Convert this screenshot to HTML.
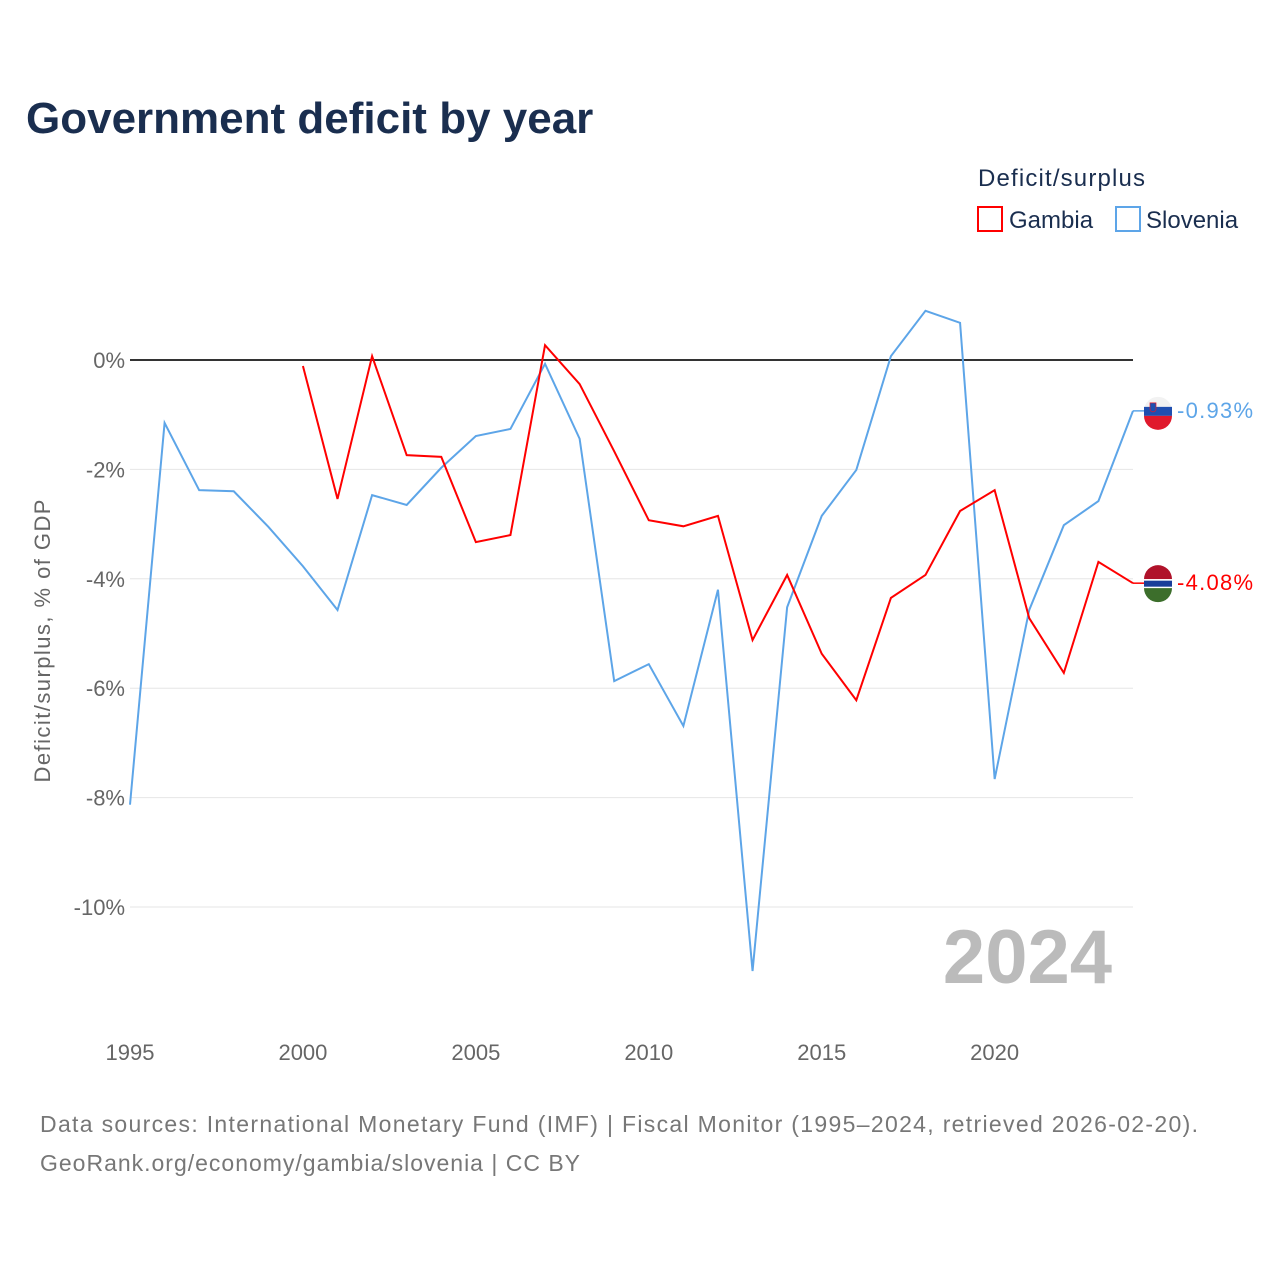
<!DOCTYPE html>
<html><head><meta charset="utf-8"><style>
body{margin:0;background:#fff;width:1280px;height:1280px;overflow:hidden;font-family:"Liberation Sans",sans-serif}
</style></head><body>
<svg width="1280" height="1280" font-family="Liberation Sans, sans-serif">
<text x="26" y="133" font-size="44" font-weight="bold" fill="#1a2e4f">Government deficit by year</text>
<text x="978" y="186" font-size="24" fill="#1a2e4f" textLength="167">Deficit/surplus</text>
<g><rect x="978" y="207" width="24" height="24" fill="none" stroke="#f00" stroke-width="2"/><text x="1009" y="228" font-size="24" fill="#1a2e4f">Gambia</text></g>
<g><rect x="1116" y="207" width="24" height="24" fill="none" stroke="#5da5e8" stroke-width="2"/><text x="1146" y="228" font-size="24" fill="#1a2e4f">Slovenia</text></g>
<text transform="translate(50,641) rotate(-90)" text-anchor="middle" font-size="22" fill="#666" textLength="283">Deficit/surplus, % of GDP</text>
<g id="grid"></g><g id="ticks"></g>
<text x="1112" y="983" text-anchor="end" font-size="76" font-weight="bold" fill="#bbb">2024</text>
<g id="series"></g>
<text x="40" y="1132" font-size="23" fill="#777" textLength="1158">Data sources: International Monetary Fund (IMF) | Fiscal Monitor (1995–2024, retrieved 2026-02-20).</text>
<text x="40" y="1171" font-size="23" fill="#777" textLength="540">GeoRank.org/economy/gambia/slovenia | CC BY</text>
</svg>
<script>
const yTicks=[0,-2,-4,-6,-8,-10];
const xTicks=[1995,2000,2005,2010,2015,2020];
const sloveniaYears=[1995,1996,1997,1998,1999,2000,2001,2002,2003,2004,2005,2006,2007,2008,2009,2010,2011,2012,2013,2014,2015,2016,2017,2018,2019,2020,2021,2022,2023,2024];
const sloveniaVals=[-8.13,-1.15,-2.38,-2.4,-3.05,-3.77,-4.57,-2.47,-2.65,-1.97,-1.39,-1.26,-0.07,-1.44,-5.87,-5.56,-6.69,-4.2,-11.17,-4.52,-2.85,-2.01,0.07,0.9,0.68,-7.66,-4.57,-3.02,-2.58,-0.93];
const gambiaYears=[2000,2001,2002,2003,2004,2005,2006,2007,2008,2009,2010,2011,2012,2013,2014,2015,2016,2017,2018,2019,2020,2021,2022,2023,2024];
const gambiaVals=[-0.11,-2.54,0.07,-1.74,-1.77,-3.33,-3.2,0.27,-0.44,-1.67,-2.93,-3.04,-2.85,-5.12,-3.93,-5.37,-6.22,-4.35,-3.93,-2.76,-2.38,-4.72,-5.72,-3.69,-4.08];
const X=y=>130+(y-1995)*(1133-130)/29;
const Y=v=>360-v*54.7;
const NS='http://www.w3.org/2000/svg';
function mk(t,a,p){const e=document.createElementNS(NS,t);for(const k in a)e.setAttribute(k,a[k]);p.appendChild(e);return e;}
const grid=document.getElementById('grid'),ticks=document.getElementById('ticks'),ser=document.getElementById('series');
yTicks.forEach(v=>{
 const l=mk('line',{x1:130,x2:1133,y1:Y(v),y2:Y(v),stroke:v===0?'#333':'#e6e6e6','stroke-width':v===0?2:1},grid);
 
 
 const t=mk('text',{x:125,y:Y(v)+8,'text-anchor':'end','font-size':22,fill:'#666'},ticks);
 t.textContent=v+'%';
 
 
});
xTicks.forEach(y=>{
 const t=mk('text',{x:X(y),y:1060,'text-anchor':'middle','font-size':22,fill:'#666'},ticks);
 t.textContent=y;
 
 
});
function line(ys,vs,c,name){
 const p=mk('polyline',{points:ys.map((y,i)=>X(y)+','+Y(vs[i])).join(' '),fill:'none',stroke:c,'stroke-width':2},ser);
 
 
 const last=vs[vs.length-1],ly=Y(last);
 mk('line',{x1:1133,x2:1145,y1:ly,y2:ly,stroke:c,'stroke-width':1.5},ser);
 const g=mk('g',{},ser);
 
 
 if(name==='slovenia'){
  mk('circle',{cx:1158,cy:ly,r:14,fill:'#f2f2f2'},g);
  mk('rect',{x:1144,y:ly-4,width:28,height:9,fill:'#1f4fb0'},g);
  mk('path',{d:`M1144 ${ly+5} h28 a14 14 0 0 1 -28 0z`,fill:'#e0192c'},g);
  mk('path',{d:`M1150 ${ly-8} h6 v6 a3 3 0 0 1 -6 0z`,fill:'#1f4fb0',stroke:'#e0192c','stroke-width':0.7},g);
 }else{
  mk('path',{d:`M1144 ${ly-4} a14 14 0 0 1 28 0z`,fill:'#b0122a'},g);
  mk('rect',{x:1144,y:ly-4,width:28,height:9,fill:'#fff'},g);
  mk('rect',{x:1144,y:ly-2.5,width:28,height:6,fill:'#1a3e9a'},g);
  mk('path',{d:`M1144 ${ly+5} h28 a14 14 0 0 1 -28 0z`,fill:'#3c6e2b'},g);
 }
 const t=mk('text',{x:1177,y:ly+7,'font-size':22,fill:c,textLength:76},ser);
 t.textContent=last.toFixed(2)+'%';
 
 
}
line(sloveniaYears,sloveniaVals,'#5da5e8','slovenia');
line(gambiaYears,gambiaVals,'#f00','gambia');
</script>
</body></html>
